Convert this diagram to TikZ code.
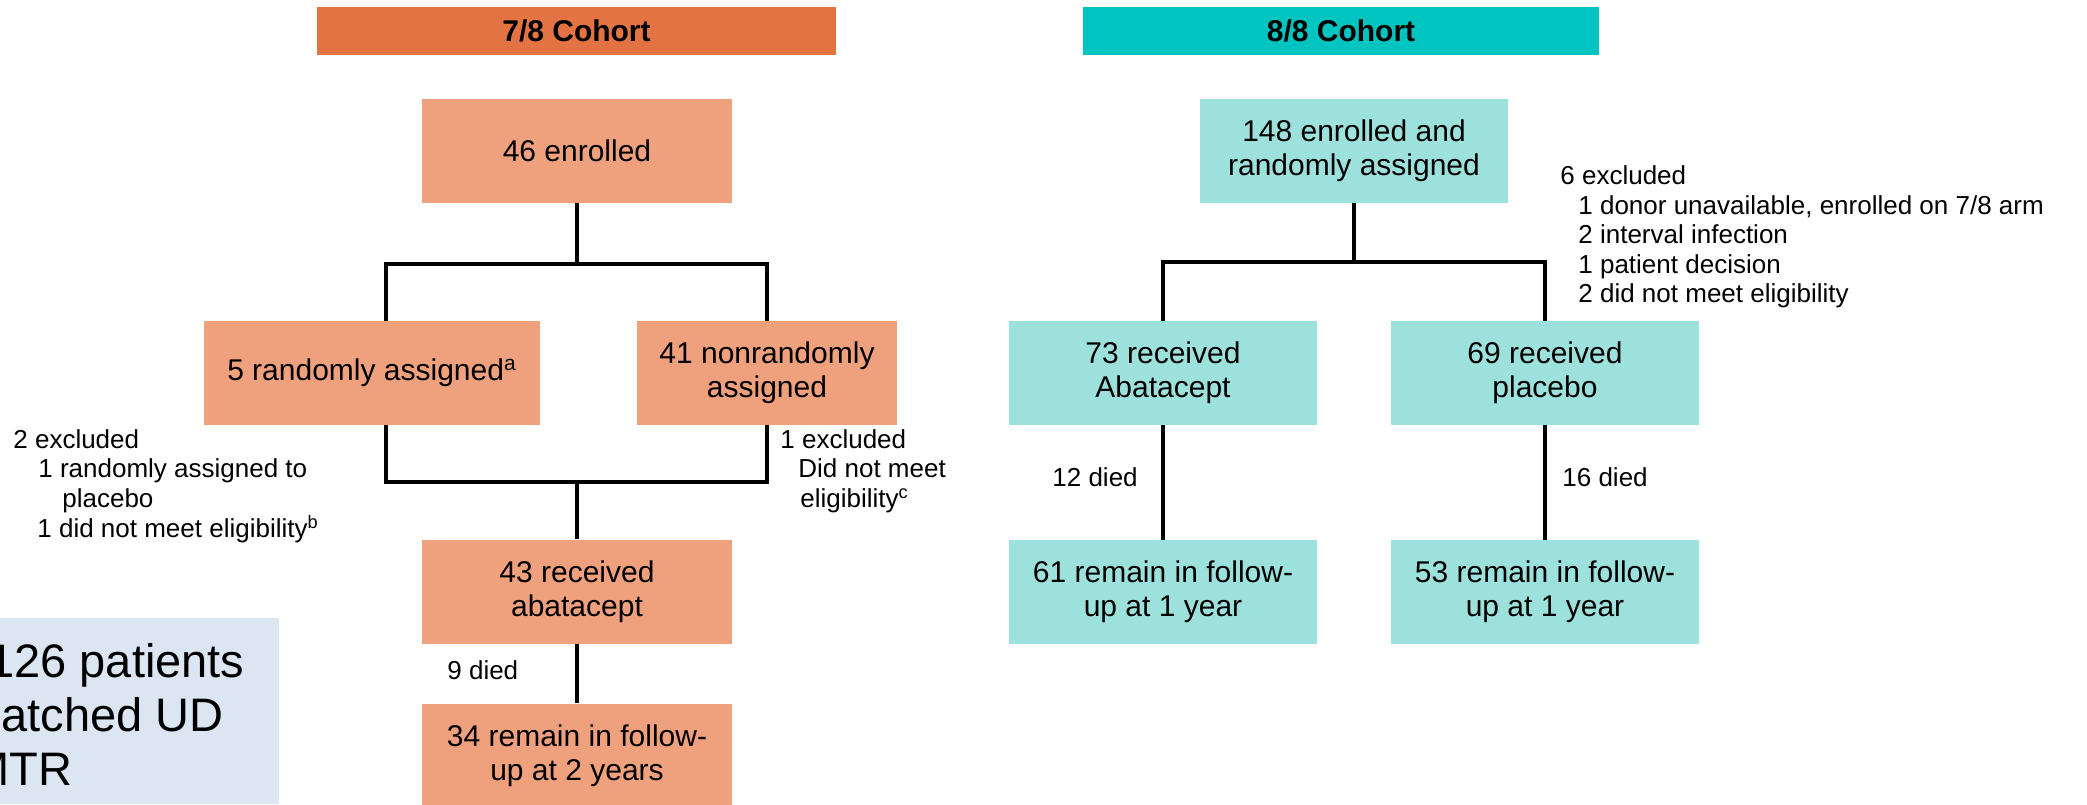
\documentclass[tikz,border=0pt]{standalone}
\usepackage{fontspec}
\setmainfont{Liberation Sans}
\usepackage{xcolor}
\usepackage{tikz}
\usetikzlibrary{shapes.geometric, arrows.meta, positioning, calc}
\definecolor{sevenhead}{HTML}{E37342}
\definecolor{sevenbox}{HTML}{EFA17D}
\definecolor{eighthead}{HTML}{00C4C0}
\definecolor{eightbox}{HTML}{9DE1DD}
\definecolor{notebg}{HTML}{DCE6F2}

\begin{document}
\begin{tikzpicture}[x=0.5pt, y=-0.5pt,
  header/.style={minimum height=24pt, inner sep=0pt, font=\fontsize{15pt}{17pt}\selectfont\bfseries},
  flowbox/.style={minimum height=52pt, inner sep=0pt, align=center, font=\fontsize{15pt}{17pt}\selectfont},
  sidenote/.style={anchor=west, inner sep=0pt, align=left, font=\fontsize{13pt}{14.8pt}\selectfont},
  bignote/.style={anchor=base west, inner sep=0pt, font=\fontsize{23.5pt}{27pt}\selectfont},
  link/.style={line width=2pt, line join=miter}]
  \useasboundingbox (0,0) rectangle (2087,804);

  % cohort headers
  \node[header, fill=sevenhead, minimum width=259.5pt] (head7) at (576.5,31) {7/8 Cohort};
  \node[header, fill=eighthead, minimum width=258pt] (head8) at (1341,31) {8/8 Cohort};

  % 7/8 arm
  \node[flowbox, fill=sevenbox, minimum width=155pt] (enr7) at (577,151) {46 enrolled};
  \node[flowbox, fill=sevenbox, minimum width=168pt] (rand7) at (372,373) {5 randomly assigned\textsuperscript{a}};
  \node[flowbox, fill=sevenbox, minimum width=130pt] (nonrand7) at (767,373) {41 nonrandomly\\assigned};
  \node[flowbox, fill=sevenbox, minimum width=155pt] (recv7) at (577,591.5) {43 received\\abatacept};
  \node[flowbox, fill=sevenbox, minimum width=155pt] (rem7) at (577,755.5) {34 remain in follow-\\up at 2 years};

  % 8/8 arm
  \node[flowbox, fill=eightbox, minimum width=154pt] (enr8) at (1354,150.5) {148 enrolled and\\randomly assigned};
  \node[flowbox, fill=eightbox, minimum width=154pt] (aba8) at (1163,373) {73 received\\Abatacept};
  \node[flowbox, fill=eightbox, minimum width=154pt] (plc8) at (1545,373) {69 received\\placebo};
  \node[flowbox, fill=eightbox, minimum width=154pt] (rem8a) at (1163,592) {61 remain in follow-\\up at 1 year};
  \node[flowbox, fill=eightbox, minimum width=154pt] (rem8b) at (1545,592) {53 remain in follow-\\up at 1 year};

  \coordinate (split7) at (386,263.5);
  \coordinate (split7r) at (767,263.5);
  \coordinate (merge7) at (386,482);
  \coordinate (merge7r) at (767,482);
  \coordinate (split8) at (1163,262);
  \coordinate (split8r) at (1545,262);

  \draw[link] (enr7.south) -- (enr7.south |- split7);
  \draw[link] (split7 |- rand7.north) -- (split7) -- (split7r) -- (nonrand7.north);
  \draw[link] (merge7 |- rand7.south) -- (merge7) -- (merge7r) -- (nonrand7.south);
  \draw[link] (recv7.north |- merge7) -- (recv7.north);
  \draw[link] (recv7.south) -- (rem7.north);

  \draw[link] (enr8.south) -- (enr8.south |- split8);
  \draw[link] (aba8.north) -- (split8) -- (split8r) -- (plc8.north);
  \draw[link] (aba8.south) -- (rem8a.north);
  \draw[link] (plc8.south) -- (rem8b.north);

  % side notes
  \node[sidenote] (excl7a) at (13,486) {2 excluded\\\hspace*{12.5pt}1 randomly assigned to\\\hspace*{24.5pt}placebo\\\hspace*{12pt}1 did not meet eligibility\textsuperscript{b}};
  \node[sidenote] (excl7b) at (780,471) {1 excluded\\\hspace*{9pt}Did not meet\\\hspace*{10pt}eligibility\textsuperscript{c}};
  \node[sidenote] (excl8) at (1560,237) {6 excluded\\\hspace*{9pt}1 donor unavailable, enrolled on 7/8 arm\\\hspace*{9pt}2 interval infection\\\hspace*{9pt}1 patient decision\\\hspace*{9pt}2 did not meet eligibility};
  \node[sidenote] (died7) at (447,670) {9 died};
  \node[sidenote] (died8a) at (1052,477) {12 died};
  \node[sidenote] (died8b) at (1562,477) {16 died};

  % cut-off note box
  \begin{scope}
    \clip (0,618) rectangle (279,804);
    \fill[notebg] (0,618) rectangle (279,804);
    \node[bignote] (pts) at (-12,677) {126 patients};
    \node[bignote] (mism) at (-38,731) {matched UD};
    \node[bignote] (mtr) at (-30,785) {MTR};
  \end{scope}
\end{tikzpicture}
\end{document}
